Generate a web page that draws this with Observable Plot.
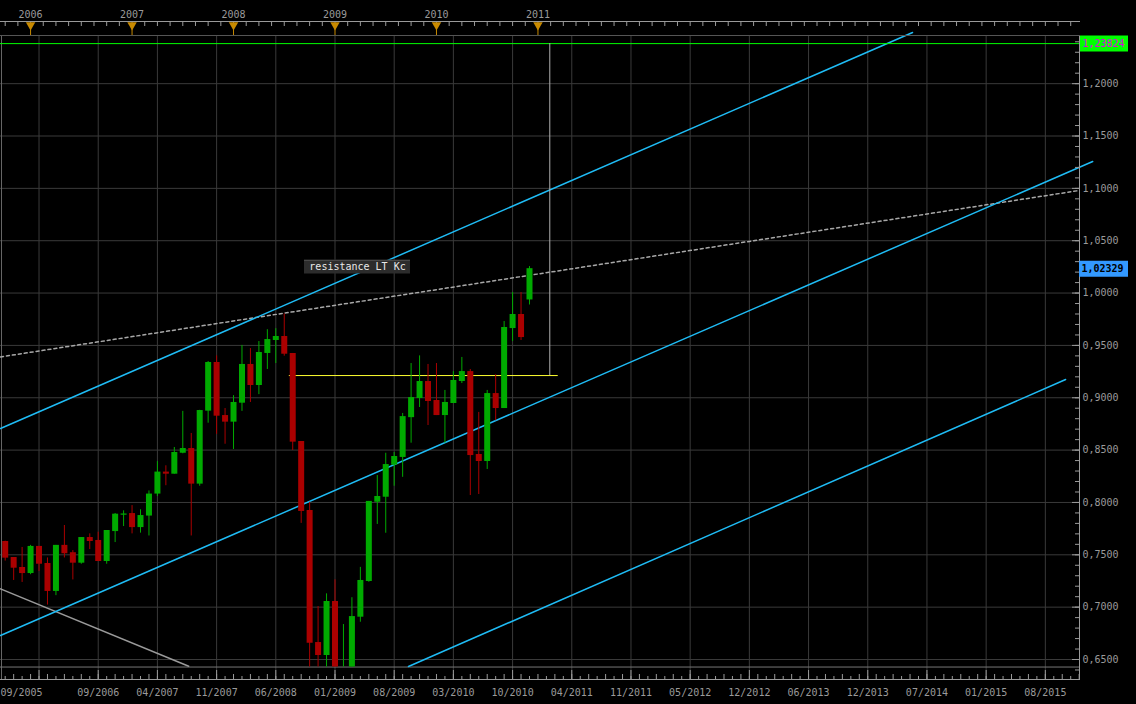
<!DOCTYPE html>
<html><head><meta charset="utf-8">
<script src="https://cdn.jsdelivr.net/npm/d3@7"></script>
<script src="https://cdn.jsdelivr.net/npm/@observablehq/plot@0.6"></script>
<style>
html,body{margin:0;padding:0;background:#000;overflow:hidden}
#chart svg{display:block}
</style></head><body><div id="chart"></div>
<script>
// Monthly candles, index 0 = 10/2005 ... index 62 = 12/2010
const opens = [0.7627,0.7474,0.7379,0.7321,0.758,0.7417,0.715,0.759,0.752,0.742,
0.7665,0.7637,0.7436,0.7722,0.7878,0.7894,0.776,0.787,0.808,0.829,
0.827,0.847,0.8515,0.8175,0.8872,0.9337,0.883,0.8767,0.8948,0.9318,
0.9117,0.9423,0.9547,0.9585,0.9423,0.8582,0.7923,0.6662,0.6538,0.7054,
0.635,0.640,0.6904,0.7245,0.8002,0.805,0.8356,0.843,0.881,0.8993,
0.9155,0.8974,0.883,0.8945,0.9155,0.925,0.8458,0.8391,0.904,0.8897,
0.9661,0.9795,0.9934];
const highs = [0.763,0.7474,0.757,0.759,0.758,0.747,0.759,0.778,0.754,0.7665,
0.770,0.7716,0.7732,0.7894,0.792,0.797,0.793,0.811,0.839,0.835,
0.8525,0.887,0.8659,0.888,0.9346,0.940,0.8897,0.902,0.950,0.947,
0.9537,0.965,0.966,0.980,0.9423,0.8582,0.8002,0.7006,0.7127,0.7261,
0.6834,0.709,0.738,0.801,0.8257,0.847,0.8477,0.885,0.9327,0.940,
0.9318,0.9327,0.907,0.925,0.9385,0.927,0.886,0.907,0.922,0.9728,
1.0005,1.0005,1.0253];
const lows = [0.744,0.7255,0.7236,0.731,0.734,0.702,0.711,0.747,0.726,0.741,
0.755,0.7436,0.741,0.7617,0.777,0.770,0.7707,0.768,0.8057,0.816,
0.827,0.8465,0.768,0.8155,0.8757,0.865,0.8556,0.8506,0.887,0.8955,
0.903,0.927,0.9327,0.9397,0.8496,0.780,0.62,0.62,0.62,0.62,
0.62,0.62,0.6856,0.7238,0.779,0.7706,0.8155,0.824,0.8566,0.8907,
0.8735,0.883,0.8566,0.8945,0.9136,0.8066,0.8076,0.8315,0.878,0.8897,
0.9537,0.9547,0.9886];
const closes = [0.7468,0.7372,0.7321,0.758,0.741,0.715,0.759,0.751,0.742,0.7665,
0.7627,0.7436,0.7732,0.7888,0.789,0.776,0.7875,0.808,0.829,0.827,
0.8477,0.8515,0.8175,0.8878,0.9337,0.8824,0.8767,0.8955,0.9318,0.9117,
0.9432,0.9556,0.9585,0.9416,0.8576,0.7914,0.6656,0.6538,0.7054,0.630,
0.640,0.691,0.7255,0.801,0.8057,0.8362,0.8439,0.882,0.9002,0.9155,
0.8964,0.883,0.8955,0.9165,0.925,0.8448,0.8391,0.904,0.8897,0.9671,
0.9795,0.9575,1.02329];

const priceTicks = [0.65,0.70,0.75,0.80,0.85,0.90,0.95,1.00,1.05,1.10,1.15,1.20];
const timeTickIdx = [4,11,18,25,32,39,46,53,60,67,74,81,88,95,102,109,116,123];
const timeTickLabels = ["","09/2006","04/2007","11/2007","06/2008","01/2009","08/2009","03/2010","10/2010",
  "04/2011","11/2011","05/2012","12/2012","06/2013","12/2013","07/2014","01/2015","08/2015"];
const firstLabel = "09/2005";
const yearIdx = [3,15,27,39,51,63];
const yearLabels = ["2006","2007","2008","2009","2010","2011"];

// drawings: [index, price]
const upperChannel = [[-0.556,0.8706],[107.3,1.2489]];
const middleChannel = [[-0.556,0.6729],[128.6,1.1256]];
const lowerChannel = [[47.69,0.6433],[125.4,0.9174]];
const dashedLine = [[-0.556,0.939],[127.04,1.098]];
const fallLine = [[-0.556,0.7175],[21.7,0.6436]];
const resistanceLevel = 1.23824;
const measureH = [{x1:33.6, x2:65.4, y:0.9212}];
const measureV = [{x:64.4, y1:0.9212, y2:1.23824}];
const noteLabel = [{x:41.66, y:1.0254, text:"resistance LT Kc"}];

const xDomain = [-0.556, 127.04];
const yDomain = [0.6309, 1.2460];
const paneBottom = 0.6428;

const W = 1136, H = 704, mL = 0, mR = 57, mT = 35, mB = 25;
const plotW = W - mL - mR, plotH = H - mT - mB;

const candles = opens.map((o, i) => {
  const c = closes[i];
  const lo = Math.max(paneBottom, lows[i]);
  const hi = Math.max(paneBottom, highs[i]);
  let bLo = Math.max(paneBottom, Math.min(o, c));
  let bHi = Math.max(paneBottom, Math.max(o, c));
  if (bHi > paneBottom && bHi - bLo < 0.0012) bHi = bLo + 0.0012;
  return {i, lo, hi, bLo, bHi, up: c >= o, visible: bHi > paneBottom};
});
const col = d => d.up ? "#00aa00" : "#aa0000";
const fmt = (v, n) => v.toFixed(n).replace(".", ",");
const pts = a => a.map(([x, y]) => ({x, y}));
const minorY = d3.range(64, 125).map(v => v / 100);
const allIdx = d3.range(0, 128);
const topTicks = d3.range(0, 86).map(k => 0 + k * 1.5).filter(v => v < 127);

const gridCol = "#3a3a3a", axCol = "#9a9a9a", blue = "#1fbcf5";

const chart = Plot.plot({
  width: W, height: H,
  marginLeft: mL, marginRight: mR, marginTop: mT, marginBottom: mB,
  style: {background: "#000", fontFamily: "DejaVu Sans Mono", fontSize: "10px", color: axCol},
  x: {domain: xDomain, axis: null},
  y: {domain: yDomain, axis: null},
  marks: [
    Plot.ruleY(priceTicks, {stroke: gridCol}),
    Plot.ruleX(timeTickIdx, {stroke: gridCol}),
    Plot.ruleX([xDomain[0]], {stroke: "#666", dx: 1}),
    Plot.ruleY([paneBottom], {stroke: "#777"}),
    Plot.line(pts(fallLine), {x: "x", y: "y", stroke: "#9a9a9a"}),
    Plot.line(pts(dashedLine), {x: "x", y: "y", stroke: "#a8a8a8", strokeDasharray: "3,3"}),
    Plot.line(pts(upperChannel), {x: "x", y: "y", stroke: blue}),
    Plot.line(pts(middleChannel), {x: "x", y: "y", stroke: blue}),
    Plot.line(pts(lowerChannel), {x: "x", y: "y", stroke: blue}),
    Plot.ruleY([resistanceLevel], {stroke: "#00ff00"}),
    Plot.ruleY(measureH, {x1: "x1", x2: "x2", y: "y", stroke: "#ffff30"}),
    Plot.ruleX(measureV, {x: "x", y1: "y1", y2: "y2", stroke: "#b0b0b0"}),
    // candles
    Plot.ruleX(candles, {x: "i", y1: "lo", y2: "hi", stroke: col}),
    Plot.ruleX(candles.filter(d => d.visible), {x: "i", y1: "bLo", y2: "bHi", stroke: col, strokeWidth: 6}),
    // note label
    Plot.ruleY(noteLabel, {x1: "x", x2: "x", y: "y", insetLeft: -53, insetRight: -53, strokeWidth: 14, stroke: "#2c2c2c"}),
    Plot.ruleY(noteLabel, {x1: "x", x2: "x", y: "y", insetLeft: -53, insetRight: -53, strokeWidth: 1, dy: -6, stroke: "#4a4a4a"}),
    Plot.text(noteLabel, {x: "x", y: "y", text: "text", fill: "#e8e8e8"}),
    // right axis
    Plot.frame({anchor: "right", stroke: axCol}),
    Plot.ruleY(minorY, {insetLeft: plotW - 4, stroke: axCol}),
    Plot.ruleY(priceTicks, {insetLeft: plotW - 7, stroke: axCol}),
    Plot.text(priceTicks, {y: d => d, text: d => fmt(d, 4), frameAnchor: "right", textAnchor: "start", dx: 3, fill: axCol}),
    Plot.ruleY([resistanceLevel], {insetLeft: plotW + 1, insetRight: -49, strokeWidth: 16, stroke: "#00ff00"}),
    Plot.text([resistanceLevel], {y: d => d, text: d => fmt(d, 5), frameAnchor: "right", textAnchor: "start", dx: 3, fill: "#e000e0"}),
    Plot.ruleY([closes[closes.length - 1]], {insetLeft: plotW, insetRight: -49, strokeWidth: 16, stroke: "#3399ff"}),
    Plot.text([closes[closes.length - 1]], {y: d => d, text: d => fmt(d, 5), frameAnchor: "right", textAnchor: "start", dx: 2, fill: "#000", fontWeight: "bold"}),
    // bottom axis
    Plot.frame({anchor: "bottom", stroke: axCol}),
    Plot.ruleX(allIdx.filter(i => i % 2 === 0), {insetTop: plotH - 3, stroke: axCol}),
    Plot.ruleX(allIdx.filter(i => i % 2 === 1), {insetTop: plotH - 5, stroke: axCol}),
    Plot.ruleX(timeTickIdx, {insetTop: plotH - 9, stroke: axCol}),
    Plot.text(timeTickIdx, {x: d => d, text: (d, i) => timeTickLabels[i], frameAnchor: "bottom", dy: 16, fill: axCol}),
    Plot.text([xDomain[0]], {x: d => d, text: () => firstLabel, frameAnchor: "bottom", dy: 16, textAnchor: "start", fill: axCol}),
    // top time band
    Plot.frame({anchor: "top", stroke: "#555"}),
    Plot.frame({anchor: "top", stroke: axCol, dy: -14}),
    Plot.ruleX(topTicks, {insetBottom: plotH - 5, dy: -14, stroke: axCol}),
    Plot.ruleX(yearIdx, {insetBottom: plotH - 6, dy: -6, stroke: "#c88a00"}),
    Plot.dot(yearIdx, {x: d => d, frameAnchor: "top", dy: -10.5, symbol: "triangle", rotate: 180, r: 3.5, fill: "#c88a00", stroke: null}),
    Plot.text(yearIdx, {x: d => d, text: (d, i) => yearLabels[i], frameAnchor: "top", dy: -25, fill: axCol})
  ]
});
document.getElementById("chart").append(chart);
</script></body></html>
